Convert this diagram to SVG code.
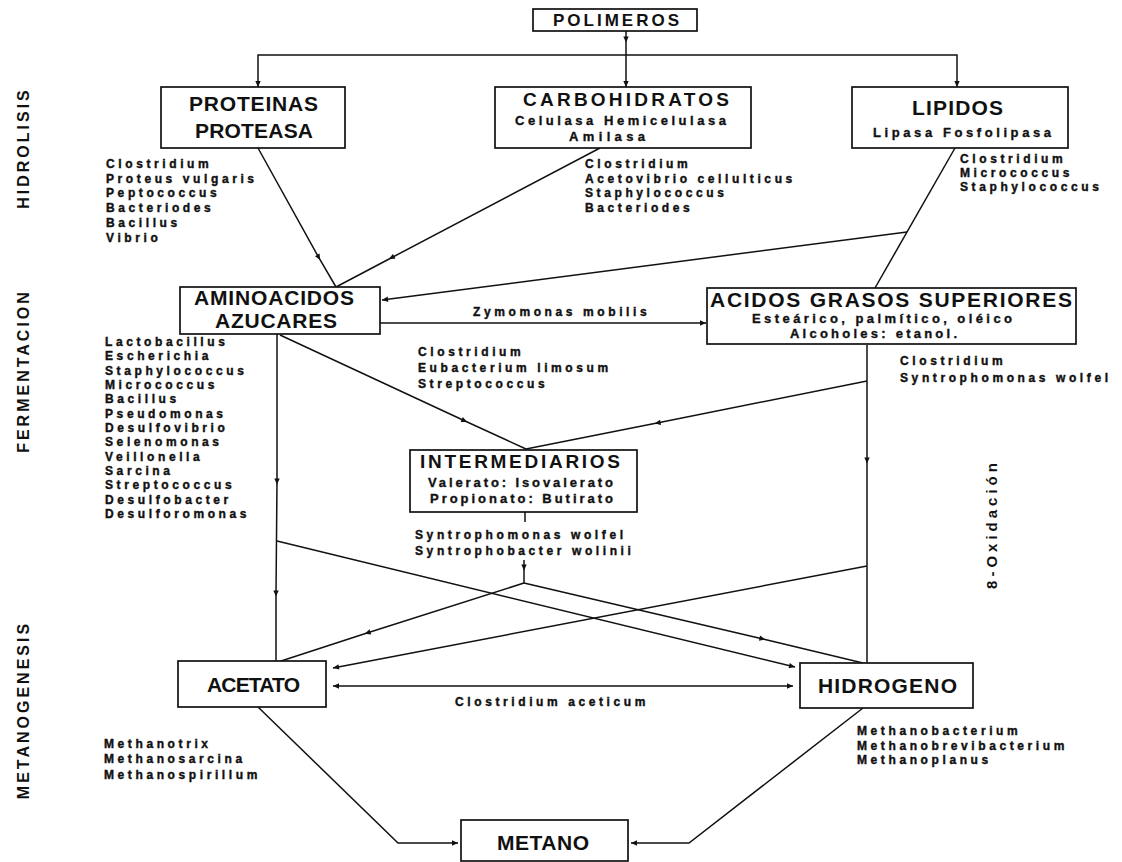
<svg xmlns="http://www.w3.org/2000/svg" width="1122" height="862" viewBox="0 0 1122 862">
<defs>
<style>
.box{fill:#fff;stroke:#111;stroke-width:1.7}
.t{font-family:"Liberation Sans",Arial,sans-serif;font-weight:bold;fill:#111}
.ti{font-size:21px}
.sub{font-size:13px;letter-spacing:2px;stroke:#111;stroke-width:0.35}
.sp{font-size:12px;letter-spacing:3.6px;stroke:#111;stroke-width:0.4}
.side{font-size:16px;letter-spacing:3px}
.c{fill:none;stroke:#111;stroke-width:1.5}
</style>
<marker id="ah" viewBox="0 0 10 10" refX="10" refY="5" markerWidth="8" markerHeight="6" orient="auto-start-reverse" markerUnits="userSpaceOnUse"><path d="M0,0.5 L10,5 L0,9.5 z" fill="#111"/></marker>
<marker id="am" viewBox="0 0 10 10" refX="6" refY="5" markerWidth="7" markerHeight="6" orient="auto" markerUnits="userSpaceOnUse"><path d="M0,0.5 L10,5 L0,9.5 z" fill="#111"/></marker>
</defs>
<rect width="1122" height="862" fill="#fff"/>

<g id="connectors" class="c">
<path d="M626,31 L626,40 L626,87" marker-mid="url(#am)" marker-end="url(#ah)"/>
<path d="M626,55 L258,55 L258,87" marker-end="url(#ah)"/>
<path d="M626,55 L957,55 L957,87" marker-end="url(#ah)"/>
<path d="M258,148 L319,258 L336,287" marker-mid="url(#am)"/>
<path d="M600,148 L391,258 L336,287" marker-mid="url(#am)"/>
<path d="M955,148 L875,288"/>
<path d="M907,232 L382,300" marker-end="url(#ah)"/>
<path d="M380,323 L706,323" marker-end="url(#ah)"/>
<path d="M277,334 L277,482 L276,594 L276,661" marker-mid="url(#am)"/>
<path d="M280,335 L465,421 L526,449" marker-mid="url(#am)"/>
<path d="M867,381 L657,423 L526,449" marker-mid="url(#am)"/>
<path d="M867,345 L867,461 L867,663" marker-mid="url(#am)"/>
<path d="M525,512 L525,522"/>
<path d="M524,560 L524,568 L524,583" marker-mid="url(#am)"/>
<path d="M524,583 L367,633 L278,662" marker-mid="url(#am)"/>
<path d="M524,583 L763,639 L863,663" marker-mid="url(#am)"/>
<path d="M277,541 L795,667" marker-end="url(#ah)"/>
<path d="M867,566 L333,668" marker-end="url(#ah)"/>
<path d="M333,686 L793,686" marker-start="url(#ah)" marker-end="url(#ah)"/>
<path d="M258,707 L398,843 L458,843" marker-end="url(#ah)"/>
<path d="M863,708 L689,843 L631,843" marker-end="url(#ah)"/>
</g>

<g id="polimeros">
<rect class="box" x="533" y="9" width="164" height="22"/>
<text class="t" x="553" y="26" font-size="17" textLength="126">POLIMEROS</text>
</g>

<g id="proteinas">
<rect class="box" x="161" y="87" width="184" height="61"/>
<text class="t ti" x="189" y="111" textLength="129">PROTEINAS</text>
<text class="t ti" x="195" y="138" textLength="118">PROTEASA</text>
</g>

<g id="carbohidratos">
<rect class="box" x="495" y="87" width="256" height="61"/>
<text class="t" x="523" y="106" font-size="19" textLength="206">CARBOHIDRATOS</text>
<text class="t sub" x="515" y="125" textLength="213">Celulasa Hemicelulasa</text>
<text class="t sub" x="569" y="141" textLength="78">Amilasa</text>
</g>

<g id="lipidos">
<rect class="box" x="852" y="87" width="216" height="61"/>
<text class="t ti" x="912" y="115" textLength="91">LIPIDOS</text>
<text class="t sub" x="873" y="137" textLength="180">Lipasa Fosfolipasa</text>
</g>

<g id="aminoacidos">
<rect class="box" x="180" y="287" width="200" height="47"/>
<text class="t ti" x="194" y="305" textLength="160">AMINOACIDOS</text>
<text class="t ti" x="215" y="328" textLength="122">AZUCARES</text>
</g>

<g id="acidos">
<rect class="box" x="707" y="288" width="369" height="56"/>
<text class="t" x="710" y="307" font-size="21" textLength="362">ACIDOS GRASOS SUPERIORES</text>
<text class="t sub" x="752" y="323" textLength="262">Esteárico, palmítico, oléico</text>
<text class="t sub" x="790" y="338" textLength="169">Alcoholes: etanol.</text>
</g>

<g id="intermediarios">
<rect class="box" x="410" y="450" width="227" height="62"/>
<text class="t" x="420" y="468" font-size="19" textLength="200">INTERMEDIARIOS</text>
<text class="t sub" x="428" y="487" textLength="187">Valerato: Isovalerato</text>
<text class="t sub" x="430" y="503" textLength="185">Propionato: Butirato</text>
</g>

<g id="acetato">
<rect class="box" x="178" y="661" width="148" height="46"/>
<text class="t ti" x="207" y="692" textLength="93">ACETATO</text>
</g>

<g id="hidrogeno">
<rect class="box" x="800" y="663" width="173" height="45"/>
<text class="t ti" x="818" y="693" textLength="139">HIDROGENO</text>
</g>

<g id="metano">
<rect class="box" x="461" y="820" width="167" height="41"/>
<text class="t ti" x="497" y="850" textLength="92">METANO</text>
</g>

<g id="labels">
<text class="t sp" x="106" y="168">Clostridium</text>
<text class="t sp" x="106" y="183">Proteus vulgaris</text>
<text class="t sp" x="106" y="197">Peptococcus</text>
<text class="t sp" x="106" y="212">Bacteriodes</text>
<text class="t sp" x="106" y="227">Bacillus</text>
<text class="t sp" x="106" y="242">Vibrio</text>

<text class="t sp" x="585" y="168">Clostridium</text>
<text class="t sp" x="585" y="183">Acetovibrio cellulticus</text>
<text class="t sp" x="585" y="197">Staphylococcus</text>
<text class="t sp" x="585" y="212">Bacteriodes</text>

<text class="t sp" x="960" y="163">Clostridium</text>
<text class="t sp" x="960" y="177">Micrococcus</text>
<text class="t sp" x="960" y="191">Staphylococcus</text>

<text class="t sp" x="105" y="346">Lactobacillus</text>
<text class="t sp" x="105" y="360">Escherichia</text>
<text class="t sp" x="105" y="375">Staphylococcus</text>
<text class="t sp" x="105" y="389">Micrococcus</text>
<text class="t sp" x="105" y="403">Bacillus</text>
<text class="t sp" x="105" y="418">Pseudomonas</text>
<text class="t sp" x="105" y="432">Desulfovibrio</text>
<text class="t sp" x="105" y="446">Selenomonas</text>
<text class="t sp" x="105" y="461">Veillonella</text>
<text class="t sp" x="105" y="475">Sarcina</text>
<text class="t sp" x="105" y="489">Streptococcus</text>
<text class="t sp" x="105" y="504">Desulfobacter</text>
<text class="t sp" x="105" y="518">Desulforomonas</text>

<text class="t sp" x="473" y="316">Zymomonas mobilis</text>

<text class="t sp" x="418" y="356">Clostridium</text>
<text class="t sp" x="418" y="372">Eubacterium limosum</text>
<text class="t sp" x="418" y="388">Streptococcus</text>

<text class="t sp" x="900" y="365">Clostridium</text>
<text class="t sp" x="900" y="382">Syntrophomonas wolfel</text>

<text class="t sp" x="415" y="539">Syntrophomonas wolfel</text>
<text class="t sp" x="415" y="555">Syntrophobacter wolinii</text>

<text class="t sp" x="455" y="706">Clostridium aceticum</text>

<text class="t sp" x="104" y="748">Methanotrix</text>
<text class="t sp" x="104" y="763">Methanosarcina</text>
<text class="t sp" x="104" y="779">Methanospirillum</text>

<text class="t sp" x="857" y="735">Methanobacterium</text>
<text class="t sp" x="857" y="750">Methanobrevibacterium</text>
<text class="t sp" x="857" y="764">Methanoplanus</text>

<text class="t side" transform="translate(29,148) rotate(-90)" text-anchor="middle">HIDROLISIS</text>
<text class="t side" transform="translate(29,371) rotate(-90)" text-anchor="middle">FERMENTACION</text>
<text class="t side" transform="translate(29,710) rotate(-90)" text-anchor="middle">METANOGENESIS</text>
<text class="t" font-size="15" letter-spacing="4" transform="translate(997,524) rotate(-90)" text-anchor="middle">8-Oxidación</text>
</g>
</svg>
